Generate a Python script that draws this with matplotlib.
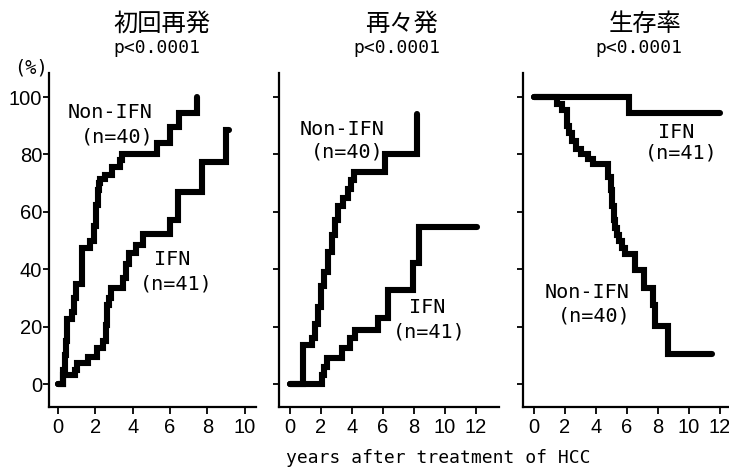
import numpy as np
import matplotlib
matplotlib.use("Agg")
import matplotlib.pyplot as plt

# --- data (years, %) ---
titles = ["初回再発", "再々発", "生存率"]
pvals = ["p<0.0001", "p<0.0001", "p<0.0001"]

p1_non_t = [0, 0.27, 0.35, 0.42, 0.46, 0.73, 0.85, 0.95, 1.27, 1.3, 1.7, 1.95, 2.05, 2.12,
            2.2, 2.25, 2.5, 2.87, 3.3, 3.45, 5.28, 6.0, 6.5, 7.45]
p1_non_y = [0, 5, 10, 15, 22.5, 25, 30, 35, 38, 47.5, 50, 55, 62.5, 67.5,
            70, 71.5, 73, 75.5, 78, 80, 84, 89.5, 94.5, 100]
p1_ifn_t = [0, 0.27, 0.9, 1.0, 1.6, 2.07, 2.42, 2.55, 2.65, 2.75, 2.85, 3.5, 3.65, 3.8,
            4.2, 4.55, 6.0, 6.4, 7.7, 9.0, 9.15]
p1_ifn_y = [0, 3, 5, 7.2, 9.5, 12.4, 15, 20.5, 27.5, 30, 33.3, 37, 42, 45.5,
            48.5, 52.3, 57, 67, 77.5, 88.5, 88.5]

p2_non_t = [0, 0.86, 1.4, 1.6, 1.8, 2.0, 2.2, 2.45, 2.7, 2.9, 3.1, 3.4, 3.75, 3.95, 4.1, 6.1, 8.2]
p2_non_y = [0, 13.5, 16, 21, 27, 34, 39, 46, 52, 57, 62, 65, 68, 71, 74, 80, 94]
p2_ifn_t = [0, 2.04, 2.2, 2.4, 3.33, 3.87, 4.2, 5.7, 6.34, 7.95, 8.35, 12.04]
p2_ifn_y = [0, 3, 6, 9.2, 12.4, 16, 19, 23, 32.8, 42.3, 54.6, 54.6]

p3_ifn_t = [0, 6.15, 12.0]
p3_ifn_y = [100, 94.6, 94.6]
p3_non_t = [0, 1.5, 1.8, 2.1, 2.25, 2.45, 2.7, 3.0, 3.5, 3.8, 4.8, 4.95, 5.05, 5.15, 5.25,
            5.33, 5.5, 5.66, 5.87, 6.5, 7.07, 7.68, 7.8, 8.67, 11.46]
p3_non_y = [100, 97.5, 95.5, 90, 87.5, 84.7, 82, 80, 78.4, 76.7, 72, 67.5, 62, 57, 54.5,
            52, 50, 47.5, 45.4, 39.6, 33.4, 27.4, 20.4, 10.5, 10.5]

yticks = [0, 20, 40, 60, 80, 100]
xticks = [[0, 2, 4, 6, 8, 10], [0, 2, 4, 6, 8, 10, 12], [0, 2, 4, 6, 8, 10, 12]]

W, H = 729, 470
fig = plt.figure(figsize=(W / 100, H / 100), dpi=100)

def px_axes(x0, x1, y0, y1):
    return fig.add_axes([x0 / W, 1 - y1 / H, (x1 - x0) / W, (y1 - y0) / H])

ax1 = px_axes(49, 256, 73, 407)
ax2 = px_axes(279, 499, 73, 407)
ax3 = px_axes(523, 729, 73, 407)
axes = [ax1, ax2, ax3]
xlims = [(-0.48, 10.6), (-0.71, 13.48), (-0.71, 12.58)]

curves = [[(p1_non_t, p1_non_y), (p1_ifn_t, p1_ifn_y)],
          [(p2_non_t, p2_non_y), (p2_ifn_t, p2_ifn_y)],
          [(p3_non_t, p3_non_y), (p3_ifn_t, p3_ifn_y)]]

mono = ["DejaVu Sans Mono", "Noto Sans CJK JP"]

for i, ax in enumerate(axes):
    for t, y in curves[i]:
        ax.step(t, y, where="post", color="black", lw=4.4,
                solid_capstyle="round", solid_joinstyle="miter")
    ax.set_xlim(*xlims[i])
    ax.set_ylim(-8, 108.4)
    ax.spines["top"].set_visible(False)
    ax.spines["right"].set_visible(False)
    ax.spines["left"].set_linewidth(1.6)
    ax.spines["bottom"].set_linewidth(1.6)
    ax.set_xticks(xticks[i])
    ax.set_yticks(yticks)
    ax.tick_params(axis="y", length=4, width=1.3, pad=1, labelsize=14.5)
    ax.tick_params(axis="x", length=5, width=1.3, pad=3, labelsize=14.5)
    for lab in ax.get_xticklabels() + ax.get_yticklabels():
        lab.set_family("Liberation Sans")
    if i > 0:
        ax.set_yticklabels([])
    ax.patch.set_alpha(0)

# group labels
ax1.text(2.78, 94.5, "Non-IFN", ha="center", va="center", fontsize=14.5, family=mono)
ax1.text(3.18, 86.2, "(n=40)", ha="center", va="center", fontsize=14.5, family=mono)
ax1.text(6.12, 43.3, "IFN", ha="center", va="center", fontsize=14.5, family=mono)
ax1.text(6.31, 35.0, "(n=41)", ha="center", va="center", fontsize=14.5, family=mono)

ax2.text(3.33, 88.6, "Non-IFN", ha="center", va="center", fontsize=14.5, family=mono)
ax2.text(3.68, 81.0, "(n=40)", ha="center", va="center", fontsize=14.5, family=mono)
ax2.text(8.82, 26.8, "IFN", ha="center", va="center", fontsize=14.5, family=mono)
ax2.text(8.97, 18.3, "(n=41)", ha="center", va="center", fontsize=14.5, family=mono)

ax3.text(9.2, 87.7, "IFN", ha="center", va="center", fontsize=14.5, family=mono)
ax3.text(9.48, 80.5, "(n=41)", ha="center", va="center", fontsize=14.5, family=mono)
ax3.text(3.4, 32.0, "Non-IFN", ha="center", va="center", fontsize=14.5, family=mono)
ax3.text(3.87, 23.6, "(n=40)", ha="center", va="center", fontsize=14.5, family=mono)

# titles and p-values
title_x = [161.5, 401.7, 645]
p_x = [156.7, 396.7, 639]
for i in range(3):
    fig.text(title_x[i] / W, 1 - 24 / H, titles[i], ha="center", va="center",
             fontsize=17.5, family="Noto Sans CJK JP")
    fig.text(p_x[i] / W, 1 - 48 / H, pvals[i], ha="center", va="center",
             fontsize=13, family=mono)

fig.text(31 / W, 1 - 68 / H, "(%)", ha="center", va="center", fontsize=13.5, family=mono)
fig.text(438 / W, 1 - 458 / H, "years after treatment of HCC", ha="center", va="center",
         fontsize=13, family=mono)

fig.savefig("out.png", dpi=100)
